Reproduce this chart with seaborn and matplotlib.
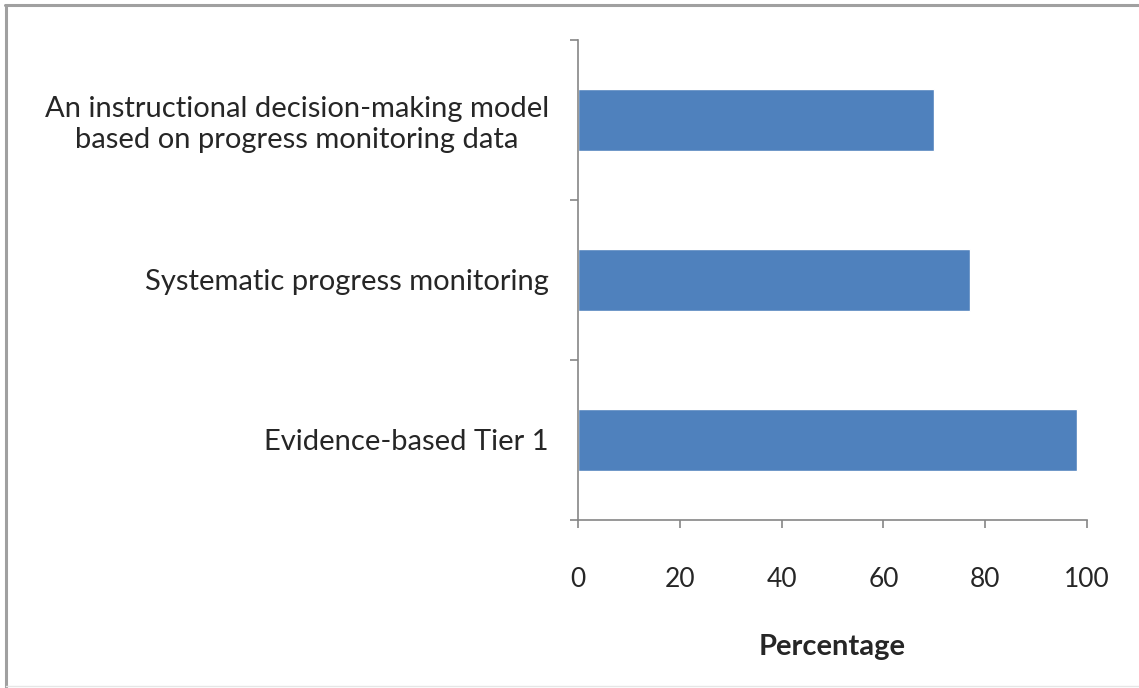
"""
Horizontal bar chart: share of schools using each RTI component.
"""
import matplotlib
matplotlib.use("Agg")
import matplotlib.pyplot as plt
from matplotlib.lines import Line2D
import pandas as pd
import seaborn as sns

# Data (top to bottom)
categories = [
    "An instructional decision-making model\nbased on progress monitoring data",
    "Systematic progress monitoring",
    "Evidence-based Tier 1",
]
percentages = [70, 77, 98]
x_ticks = [0, 20, 40, 60, 80, 100]

BAR_COLOR = "#4F81BD"
AXIS_COLOR = "#868686"
TEXT_COLOR = "#262626"

sns.set_style("white", {"xtick.bottom": True, "ytick.left": True})
plt.rcParams["font.family"] = ["Lato", "DejaVu Sans"]

df = pd.DataFrame({"component": categories, "pct": percentages})

fig = plt.figure(figsize=(11.39, 6.88), dpi=100)
ax = fig.add_axes([0.5075, 0.2442, 0.4468, 0.6977])

sns.barplot(data=df, x="pct", y="component", color=BAR_COLOR,
            width=0.39, saturation=1, ax=ax)

ax.set_xlim(0, 100)
ax.set_ylim(2.5, -0.5)
ax.set_xticks(x_ticks)
ax.set_xticklabels([str(t) for t in x_ticks])

# category boundaries get the tick marks, labels sit between them
ax.set_yticks([-0.5, 0.5, 1.5, 2.5])
ax.set_yticks(range(len(categories)), minor=True)
ax.set_yticklabels([""] * 4)
ax.set_yticklabels(categories, minor=True, multialignment="center")
ax.tick_params(axis="y", which="major", left=True, length=6, width=1.2,
               color=AXIS_COLOR, direction="out")
ax.tick_params(axis="y", which="minor", left=False, length=0, pad=21,
               labelsize=21, labelcolor=TEXT_COLOR)
ax.tick_params(axis="x", bottom=True, length=6, width=1.2, color=AXIS_COLOR,
               direction="out", pad=28, labelsize=19, labelcolor=TEXT_COLOR)

for side in ["top", "right"]:
    ax.spines[side].set_visible(False)
for side in ["left", "bottom"]:
    ax.spines[side].set_color(AXIS_COLOR)
    ax.spines[side].set_linewidth(1.2)

ax.set_ylabel("")
ax.set_xlabel("Percentage", fontsize=21, fontweight="bold",
              color=TEXT_COLOR, labelpad=30)

# grey frame around the chart area
frame = dict(transform=fig.transFigure, color="#A0A0A0", lw=2.2)
fig.add_artist(Line2D([5 / 1139, 1.0], [1 - 5 / 688, 1 - 5 / 688], **frame))
fig.add_artist(Line2D([6 / 1139, 6 / 1139], [0.0, 1 - 5 / 688], **frame))
fig.add_artist(Line2D([6 / 1139, 1.0], [2 / 688, 2 / 688],
                      transform=fig.transFigure, color="#E6E6E6", lw=1))

fig.savefig("out.png", dpi=100, facecolor="white")
